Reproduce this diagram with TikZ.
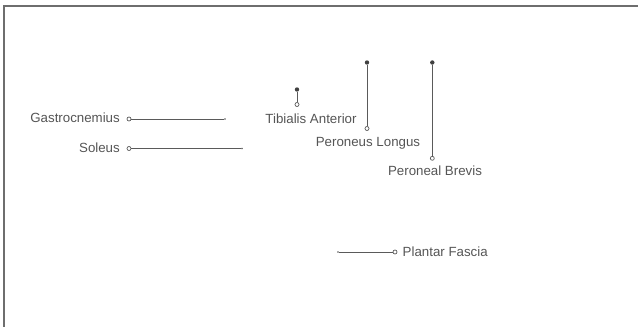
\documentclass[tikz,border=0pt]{standalone}
\usepackage{fontspec}
\setmainfont{Liberation Sans}
\definecolor{txtgray}{HTML}{555555}
\definecolor{linegray}{HTML}{5A5A5A}
\definecolor{dotgray}{HTML}{404040}
\definecolor{framegray}{HTML}{6E6E6E}
\begin{document}
\begin{tikzpicture}[x=1pt,y=-1pt,
  lbl/.style={font=\fontsize{13.3}{15}\selectfont, text=txtgray, inner sep=0pt},
  conn/.style={draw=linegray, line width=0.8pt},
  ocirc/.style={circle, draw=linegray, fill=white, line width=0.7pt, minimum size=4pt, inner sep=0pt},
  fdot/.style={circle, fill=dotgray, minimum size=4.4pt, inner sep=0pt},
  tdot/.style={circle, fill=linegray, minimum size=1.8pt, inner sep=0pt},
  frame/.style={draw=framegray, line width=2pt}]
\useasboundingbox (0,0) rectangle (638,327);
\clip (0,0) rectangle (638,327);
\draw[frame] (4,6) rectangle (700,400);
% horizontal leaders
\node[lbl, anchor=base east] (gas) at (120,122) {Gastrocnemius};
\node[ocirc] (gasC) at (129,119) {};
\node[tdot] (gasE) at (225,119) {};
\draw[conn] (gasC) -- (gasE);
\node[lbl, anchor=base east] (sol) at (120,152.5) {Soleus};
\node[ocirc] (solC) at (129,148.5) {};
\node[tdot] (solE) at (242,148.5) {};
\draw[conn] (solC) -- (solE);
\node[lbl, anchor=base west] (pla) at (402.5,256) {Plantar Fascia};
\node[ocirc] (plaC) at (395,252) {};
\node[tdot] (plaE) at (338,252) {};
\draw[conn] (plaC) -- (plaE);
% vertical leaders
\node[lbl, anchor=base] (tib) at (311,123) {Tibialis Anterior};
\node[fdot] (tibT) at (297,89.5) {};
\node[ocirc] (tibC) at (297,104.5) {};
\draw[conn] (tibT) -- (tibC);
\node[lbl, anchor=base] (pl) at (368,146.7) {Peroneus Longus};
\node[fdot] (plT) at (367,62.5) {};
\node[ocirc] (plC) at (367,128.5) {};
\draw[conn] (plT) -- (plC);
\node[lbl, anchor=base] (pb) at (435,175.7) {Peroneal Brevis};
\node[fdot] (pbT) at (432.3,62.5) {};
\node[ocirc] (pbC) at (432.3,158.3) {};
\draw[conn] (pbT) -- (pbC);
\end{tikzpicture}
\end{document}
